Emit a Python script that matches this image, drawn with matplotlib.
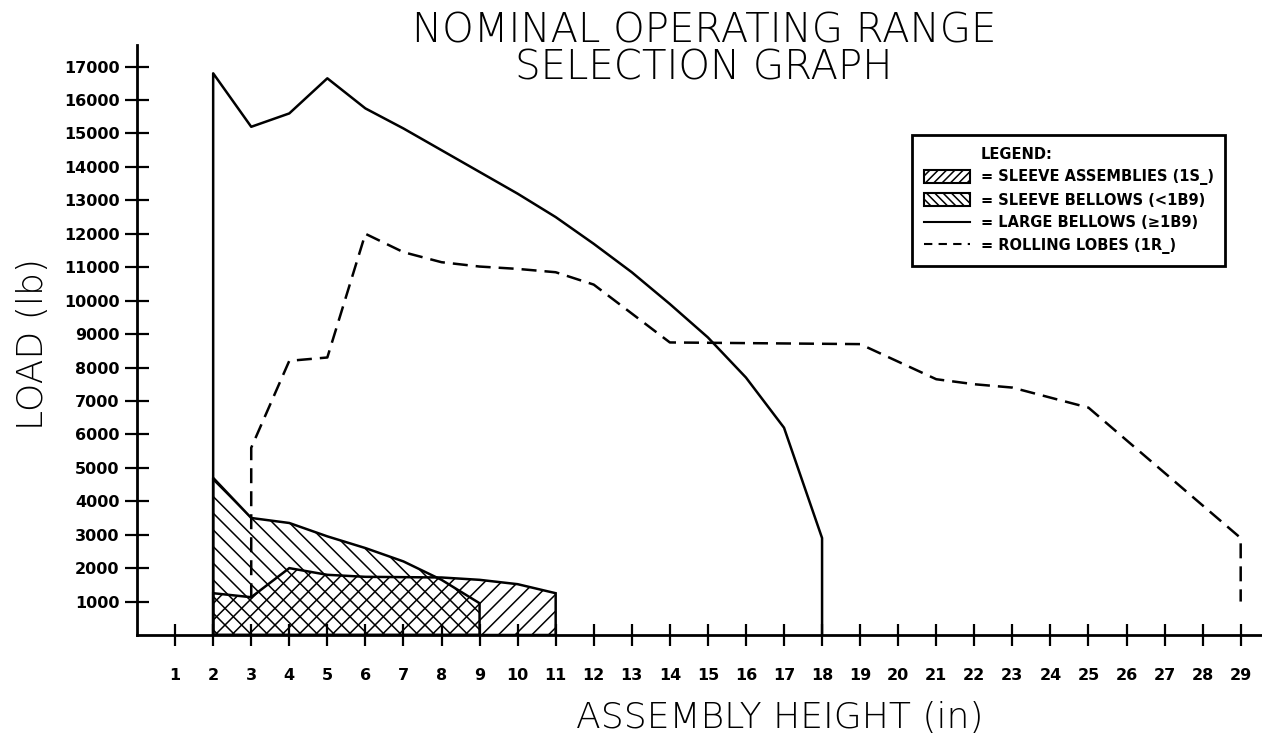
#!/usr/bin/env python3
"""
Nominal operating range selection graph.

Load vs. assembly height envelopes for sleeve assemblies, sleeve bellows,
large bellows and rolling lobes.
"""

import sys

import matplotlib
import matplotlib.pyplot as plt
from matplotlib.lines import Line2D
from matplotlib.patches import Patch

matplotlib.use("Agg")  # Non-interactive backend

# Assembly height ticks (in)
height_ticks = list(range(1, 30))
# Load ticks (lb)
load_ticks = list(range(1000, 18000, 1000))

# Large bellows (>=1B9) envelope
large_height = [2, 2, 3, 4, 5, 6, 7, 8, 9, 10, 11, 12, 13, 14, 15, 16, 17, 18, 18]
large_load = [0, 16800, 15200, 15600, 16650, 15750, 15150, 14500, 13850, 13200,
              12500, 11700, 10850, 9900, 8900, 7700, 6200, 2900, 0]

# Rolling lobes (1R_) envelope
lobe_height = [3, 3, 4, 5, 6, 7, 8, 9, 10, 11, 12, 14, 19, 21, 22, 23, 25, 29, 29]
lobe_load = [1100, 5600, 8200, 8300, 12000, 11450, 11150, 11020, 10950, 10850,
             10480, 8750, 8700, 7650, 7500, 7400, 6800, 2900, 1000]

# Sleeve bellows (<1B9) upper bound
bellows_height = [2, 3, 4, 5, 6, 7, 8, 9]
bellows_load = [4700, 3500, 3350, 2950, 2600, 2200, 1650, 950]

# Sleeve assemblies (1S_) upper bound
sleeve_height = [2, 3, 4, 5, 6, 7, 8, 9, 10, 11]
sleeve_load = [1250, 1130, 2000, 1800, 1740, 1730, 1720, 1650, 1520, 1250]

legend_labels = [
    "LEGEND:",
    "= SLEEVE ASSEMBLIES (1S_)",
    "= SLEEVE BELLOWS (<1B9)",
    "= LARGE BELLOWS (\u22651B9)",
    "= ROLLING LOBES (1R_)",
]


def closed_region(heights, loads):
    """Close an upper bound down to zero load at both ends."""
    xs = [heights[0]] + list(heights) + [heights[-1]]
    ys = [0] + list(loads) + [0]
    return xs, ys


def main():
    plt.rcParams["hatch.linewidth"] = 1.1
    plt.rcParams["font.family"] = "DejaVu Sans"

    fig = plt.figure(figsize=(12.62, 7.40), dpi=100)
    ax = fig.add_axes([0.1086, 0.1419, 0.8914, 0.797])

    # Hatched regions
    xs, ys = closed_region(sleeve_height, sleeve_load)
    ax.fill(xs, ys, facecolor="none", edgecolor="black", hatch="//", linewidth=1.8)
    xs, ys = closed_region(bellows_height, bellows_load)
    ax.fill(xs, ys, facecolor="none", edgecolor="black", hatch="\\\\", linewidth=1.8)

    # Envelopes
    ax.plot(large_height, large_load, color="black", linewidth=1.8)
    ax.plot(lobe_height, lobe_load, color="black", linewidth=1.8,
            linestyle=(0, (6, 3.2)))

    ax.set_xlim(0, 29.56)
    ax.set_ylim(0, 17640)
    ax.set_xticks(height_ticks)
    ax.set_xticklabels([str(h) for h in height_ticks], fontsize=11.5,
                       fontweight="bold")
    ax.set_yticks(load_ticks)
    ax.set_yticklabels([str(v) for v in load_ticks], fontsize=11.5,
                       fontweight="bold")
    ax.tick_params(axis="x", direction="inout", length=16, width=1.6, pad=16)
    ax.tick_params(axis="y", direction="inout", length=17, width=1.6, pad=4)

    for side in ("top", "right"):
        ax.spines[side].set_visible(False)
    for side in ("left", "bottom"):
        ax.spines[side].set_linewidth(2.0)

    # Titles and axis labels
    fig.text(0.558, 0.9432, "NOMINAL OPERATING RANGE", ha="center",
             va="baseline", fontsize=29, fontweight="light")
    fig.text(0.558, 0.8919, "SELECTION GRAPH", ha="center",
             va="baseline", fontsize=29, fontweight="light")
    fig.text(0.026, 0.535, "LOAD (lb)", rotation=90, ha="center", va="center",
             fontsize=26, fontweight="light")
    fig.text(0.618, 0.03, "ASSEMBLY HEIGHT (in)", ha="center", va="center",
             fontsize=26, fontweight="light")

    # Legend
    handles = [
        Line2D([], [], color="none"),
        Patch(facecolor="white", edgecolor="black", hatch="////", linewidth=1.5),
        Patch(facecolor="white", edgecolor="black", hatch="\\\\\\\\", linewidth=1.5),
        Line2D([], [], color="black", linewidth=1.5),
        Line2D([], [], color="black", linewidth=1.5, linestyle=(0, (4, 3))),
    ]
    leg = fig.legend(handles, legend_labels, loc="upper left",
                     bbox_to_anchor=(0.7227, 0.8176), borderaxespad=0,
                     frameon=True, fancybox=False, edgecolor="black",
                     framealpha=1, prop={"size": 10.5, "weight": "bold"},
                     handlelength=3.2, handleheight=1.0, handletextpad=0.7,
                     labelspacing=0.52, borderpad=0.8)
    leg.get_frame().set_linewidth(2.0)

    fig.savefig("out.png", dpi=100)
    plt.close(fig)
    return 0


if __name__ == "__main__":
    sys.exit(main())
